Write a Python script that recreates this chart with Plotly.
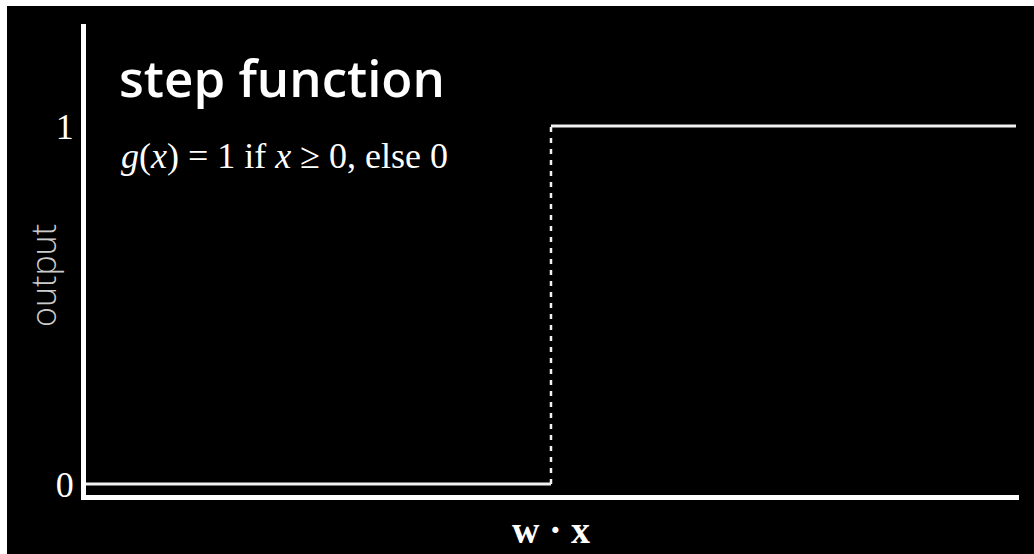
import plotly.graph_objects as go

# Step activation: 0 for negative input, 1 from the threshold onward
x_low = [-1, 0]
out_low = [0, 0]
x_high = [0, 1]
out_high = [1, 1]
x_jump = [0, 0]
out_jump = [0, 1]

tick_vals = [0, 1]
tick_text = ["0", "1"]

W, H = 1034, 554
L, R, T, B = 86, 15, 24, 59
pw, ph = W - L - R, H - T - B


def px(x):
    return (x - L) / pw


def py(y):
    return (H - B - y) / ph


line_col = "#f2f2f2"
fig = go.Figure()
fig.add_trace(go.Scatter(x=x_low, y=out_low, mode="lines",
                         line=dict(color=line_col, width=3)))
fig.add_trace(go.Scatter(x=x_high, y=out_high, mode="lines",
                         line=dict(color=line_col, width=3)))
fig.add_trace(go.Scatter(x=x_jump, y=out_jump, mode="lines",
                         line=dict(color=line_col, width=2.5, dash="5px,6px")))

serif = "Liberation Serif, Times New Roman, serif"

fig.update_layout(
    width=W, height=H,
    margin=dict(l=L, r=R, t=T, b=B),
    paper_bgcolor="black",
    plot_bgcolor="black",
    showlegend=False,
    xaxis=dict(range=[-1, 1.0065], showgrid=False, zeroline=False,
               showticklabels=False, ticks="",
               showline=True, linecolor="white", linewidth=5),
    yaxis=dict(range=[-0.0307, 1.285], showgrid=False, zeroline=False,
               tickvals=tick_vals, ticktext=tick_text, ticks="",
               tickfont=dict(family=serif, size=36, color="white"),
               ticklabelstandoff=0,
               showline=True, linecolor="white", linewidth=5),
    shapes=[
        # white frame strips on the left and top edges
        dict(type="rect", xref="paper", yref="paper", layer="above",
             x0=px(0), x1=px(7), y0=py(H), y1=py(0),
             fillcolor="white", line=dict(width=0)),
        dict(type="rect", xref="paper", yref="paper", layer="above",
             x0=px(0), x1=px(W), y0=py(6), y1=py(0),
             fillcolor="white", line=dict(width=0)),
    ],
    annotations=[
        dict(text="step function", xref="paper", yref="paper",
             x=px(117), y=py(77), xanchor="left", yanchor="middle",
             showarrow=False,
             font=dict(family="Open Sans, sans-serif", size=51,
                       color="white", weight=600)),
        dict(text="<i>g</i>(<i>x</i>) = 1 if <i>x</i> ≥ 0, else 0",
             xref="paper", yref="paper",
             x=px(119), y=py(156), xanchor="left", yanchor="middle",
             showarrow=False,
             font=dict(family=serif, size=36, color="white")),
        dict(text="output", xref="paper", yref="paper",
             x=px(43), y=py(276), xanchor="center", yanchor="middle",
             textangle=-90, showarrow=False,
             font=dict(family="Open Sans, sans-serif", size=34,
                       color="#cccccc", weight=300)),
        dict(text="<b>w · x</b>", xref="paper", yref="paper",
             x=px(551), y=py(553), xanchor="center", yanchor="bottom",
             showarrow=False,
             font=dict(family=serif, size=38, color="white")),
    ],
)

fig.write_html("out.html")
